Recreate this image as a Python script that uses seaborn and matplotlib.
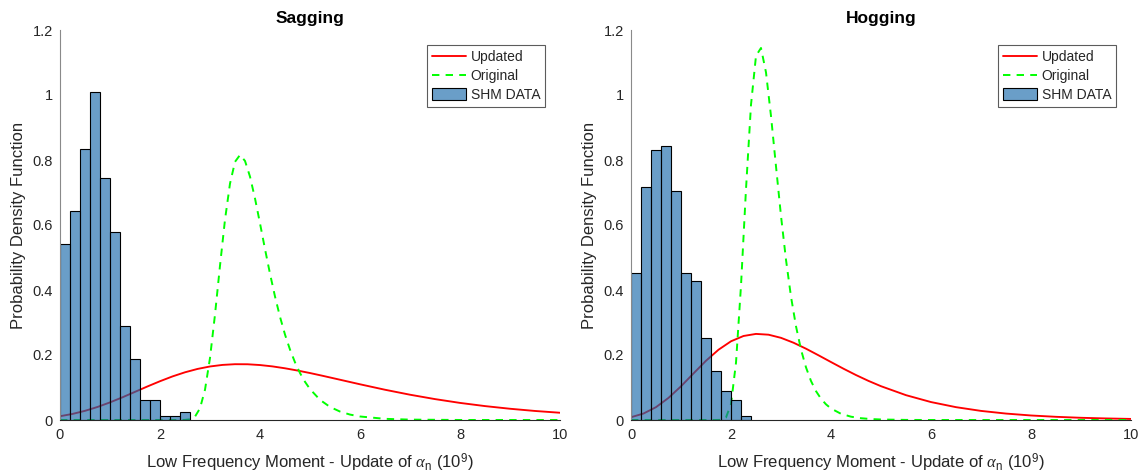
import numpy as np
import pandas as pd
import matplotlib
matplotlib.use("Agg")
import matplotlib.pyplot as plt
import seaborn as sns
from matplotlib.lines import Line2D
from matplotlib.patches import Patch

# ---------------- data ----------------
panel_titles = ["Sagging", "Hogging"]
bin_width = 0.2

sag_hist = [0.541, 0.643, 0.833, 1.009, 0.744, 0.579, 0.290, 0.188,
            0.062, 0.062, 0.012, 0.012, 0.026]
hog_hist = [0.453, 0.718, 0.830, 0.844, 0.706, 0.453, 0.427, 0.253,
            0.150, 0.089, 0.061, 0.012]

sag_upd_x = [0, 0.25, 0.5, 0.75, 1.0, 1.25, 1.5, 1.75, 2.0, 2.25, 2.5, 2.75,
             3.0, 3.25, 3.5, 3.75, 4.0, 4.25, 4.5, 4.75, 5.0, 5.25, 5.5, 6.0,
             6.5, 7.0, 7.5, 8.0, 8.5, 9.0, 9.5, 10]
sag_upd_y = [0.0116, 0.0187, 0.0282, 0.0401, 0.0542, 0.0699, 0.0866, 0.1033,
             0.1193, 0.1341, 0.1468, 0.1571, 0.1647, 0.1695, 0.1717, 0.1715,
             0.1691, 0.1649, 0.1591, 0.1522, 0.1445, 0.1361, 0.1274, 0.1099,
             0.0931, 0.0778, 0.0643, 0.0526, 0.0428, 0.0346, 0.0278, 0.0223]

sag_org_x = [0, 1.0, 2.0, 2.4, 2.5, 2.6, 2.7, 2.8, 2.9, 3.0, 3.1, 3.2, 3.3,
             3.4, 3.5, 3.6, 3.7, 3.8, 3.9, 4.0, 4.1, 4.2, 4.3, 4.4, 4.5, 4.6,
             4.7, 4.8, 4.9, 5.0, 5.2, 5.4, 5.6, 5.8, 6.0, 6.5, 7.0, 8.0, 10]
sag_org_y = [0, 0, 0, 0, 0.0003, 0.0021, 0.0104, 0.0360, 0.0932, 0.1909,
             0.3244, 0.4749, 0.6164, 0.7274, 0.7944, 0.8156, 0.7972, 0.7489,
             0.6817, 0.6050, 0.5259, 0.4500, 0.3800, 0.3175, 0.2629, 0.2166,
             0.1774, 0.1445, 0.1175, 0.0951, 0.0620, 0.0402, 0.0260, 0.0167,
             0.0108, 0.0036, 0.0012, 0.0001, 0]

hog_upd_x = [0, 0.25, 0.5, 0.75, 1.0, 1.25, 1.5, 1.75, 2.0, 2.25, 2.5, 2.75,
             3.0, 3.25, 3.5, 3.75, 4.0, 4.25, 4.5, 4.75, 5.0, 5.5, 6.0, 6.5,
             7.0, 7.5, 8.0, 8.5, 9.0, 9.5, 10]
hog_upd_y = [0.0085, 0.0199, 0.0395, 0.0680, 0.1037, 0.1433, 0.1823, 0.2162,
             0.2422, 0.2585, 0.2649, 0.2625, 0.2528, 0.2378, 0.2194, 0.1991,
             0.1783, 0.1578, 0.1383, 0.1203, 0.1040, 0.0764, 0.0552, 0.0395,
             0.0280, 0.0198, 0.0139, 0.0098, 0.0068, 0.0048, 0.0033]

hog_org_x = [0, 1.0, 1.6, 1.7, 1.8, 1.9, 2.0, 2.1, 2.2, 2.3, 2.4, 2.5, 2.6,
             2.7, 2.8, 2.9, 3.0, 3.1, 3.2, 3.3, 3.4, 3.5, 3.6, 3.7, 3.8, 3.9,
             4.0, 4.2, 4.4, 4.6, 4.8, 5.0, 5.5, 6.0, 10]
hog_org_y = [0, 0, 0, 0.0000, 0.0005, 0.0076, 0.0490, 0.1763, 0.4137, 0.7106,
             0.9700, 1.1206, 1.1447, 1.0694, 0.9353, 0.7803, 0.6278, 0.4928,
             0.3794, 0.2884, 0.2166, 0.1619, 0.1200, 0.0888, 0.0655, 0.0482,
             0.0354, 0.0191, 0.0102, 0.0055, 0.0029, 0.0016, 0.0003, 0, 0]

x_ticks = [0, 2, 4, 6, 8, 10]
y_ticks = [0, 0.2, 0.4, 0.6, 0.8, 1.0, 1.2]
y_tick_labels = ["0", "0.2", "0.4", "0.6", "0.8", "1", "1.2"]
legend_labels = ["Updated", "Original", "SHM DATA"]
x_label = r"Low Frequency Moment - Update of $\alpha_{\mathrm{n}}$ (10$^{\mathrm{9}}$)"
y_label = "Probability Density Function"

# ---------------- style ----------------
sns.set_theme(style="white")
plt.rcParams["font.family"] = ["Liberation Sans", "DejaVu Sans"]
plt.rcParams["mathtext.fontset"] = "custom"
plt.rcParams["mathtext.rm"] = "Liberation Sans"
plt.rcParams["mathtext.it"] = "Liberation Serif:italic"

bar_face = (26 / 255, 106 / 255, 171 / 255, 0.65)
red = "#ff0000"
green = "#00ff00"
txt = "#262626"
dash = (0, (3.8, 3.2))

fig = plt.figure(figsize=(11.47, 4.75), dpi=100)
axes = [fig.add_axes([60 / 1147, 55 / 475, 500 / 1147, 390 / 475]),
        fig.add_axes([631 / 1147, 55 / 475, 500 / 1147, 390 / 475])]

panels = [(sag_hist, sag_upd_x, sag_upd_y, sag_org_x, sag_org_y),
          (hog_hist, hog_upd_x, hog_upd_y, hog_org_x, hog_org_y)]

for ax, title, (hist, ux, uy, ox, oy) in zip(axes, panel_titles, panels):
    n = len(hist)
    edges = [round(i * bin_width, 6) for i in range(n + 1)]
    centers = [round((i + 0.5) * bin_width, 6) for i in range(n)]
    hdf = pd.DataFrame({"x": centers, "w": hist})

    sns.lineplot(x=ux, y=uy, ax=ax, color=red, lw=1.35, zorder=1, sort=False)
    sns.histplot(data=hdf, x="x", weights="w", bins=edges, stat="count",
                 ax=ax, facecolor=bar_face, edgecolor="black", linewidth=0.8,
                 zorder=2)
    sns.lineplot(x=ox, y=oy, ax=ax, color=green, lw=1.4, zorder=1.5,
                 sort=False)
    for ln in ax.get_lines()[1:]:
        ln.set_linestyle(dash)
        ln.set_clip_on(False)
    for p in ax.patches:
        p.set_facecolor(bar_face)
        p.set_edgecolor("black")

    ax.set_xlim(0, 10)
    ax.set_ylim(0, 1.2)
    ax.set_xticks(x_ticks)
    ax.set_xticklabels([str(t) for t in x_ticks])
    ax.set_yticks(y_ticks)
    ax.set_yticklabels(y_tick_labels)
    ax.tick_params(direction="in", length=4, width=0.8, colors=txt,
                   labelsize=10.5, pad=6)
    ax.tick_params(axis="y", colors="#8a8a8a", labelcolor=txt, pad=5)
    for s in ["top", "right"]:
        ax.spines[s].set_visible(False)
    ax.spines["bottom"].set_color(txt)
    ax.spines["left"].set_color("#8a8a8a")
    ax.spines["bottom"].set_linewidth(0.8)
    ax.spines["left"].set_linewidth(0.8)
    ax.set_xlabel(x_label, fontsize=12, color=txt, labelpad=7)
    ax.set_ylabel(y_label, fontsize=12, color=txt, labelpad=5)
    ax.set_title(title, fontsize=12.5, fontweight="bold", color="black", pad=5)

    handles = [Line2D([0], [0], color=red, lw=1.35),
               Line2D([0], [0], color=green, lw=1.4, linestyle=dash),
               Patch(facecolor=bar_face, edgecolor="black", linewidth=0.8)]
    leg = ax.legend(handles, legend_labels, loc="upper right",
                    bbox_to_anchor=(0.97, 0.9615), fontsize=10, frameon=True,
                    fancybox=False, edgecolor="#333333", borderpad=0.35,
                    handlelength=2.4, handleheight=0.9, labelspacing=0.36,
                    handletextpad=0.35, borderaxespad=0.0)
    leg.get_frame().set_linewidth(0.8)

fig.savefig("out.png", dpi=100, facecolor="white")
